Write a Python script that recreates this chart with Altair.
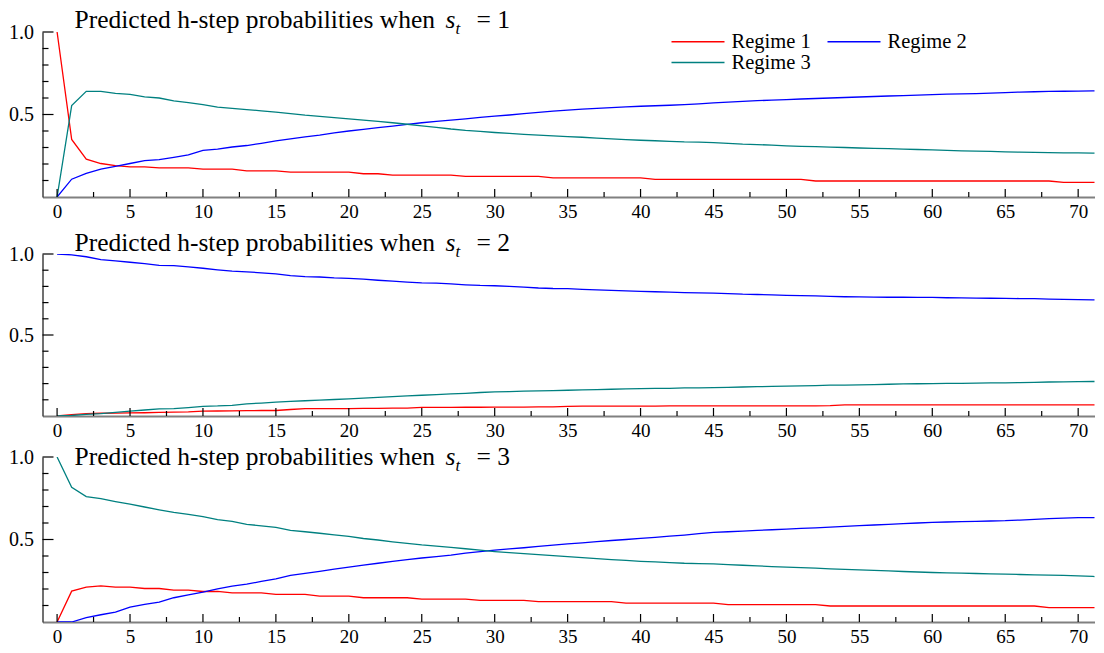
import altair as alt
import pandas as pd

# ---------------- data ----------------
H = list(range(73))
regimes = ["Regime 1", "Regime 2", "Regime 3"]
colors = ["#ff0000", "#0000ff", "#008080"]
panel_states = ["1", "2", "3"]

# s_t = 1
p1_r1 = [1.000, 0.349, 0.229, 0.203, 0.190, 0.183, 0.183, 0.177, 0.177, 0.177,
         0.169, 0.169, 0.169, 0.158, 0.158, 0.158, 0.151, 0.151, 0.151, 0.151,
         0.151, 0.141, 0.141, 0.133, 0.133, 0.133, 0.133, 0.133, 0.125, 0.125,
         0.125, 0.125, 0.125, 0.125, 0.116, 0.116, 0.116, 0.116, 0.116, 0.116,
         0.116, 0.107, 0.107, 0.107, 0.107, 0.107, 0.107, 0.107, 0.107, 0.107,
         0.107, 0.107, 0.097, 0.097, 0.097, 0.097, 0.097, 0.097, 0.097, 0.097,
         0.097, 0.097, 0.097, 0.097, 0.097, 0.097, 0.097, 0.097, 0.097, 0.089,
         0.089, 0.089, 0.089]
p1_r2 = [0.000, 0.108, 0.143, 0.169, 0.185, 0.203, 0.221, 0.227, 0.240, 0.255,
         0.283, 0.290, 0.303, 0.312, 0.325, 0.340, 0.352, 0.365, 0.375, 0.388,
         0.400, 0.410, 0.420, 0.430, 0.440, 0.450, 0.458, 0.466, 0.474, 0.482,
         0.490, 0.497, 0.505, 0.513, 0.520, 0.527, 0.532, 0.537, 0.542, 0.546,
         0.550, 0.553, 0.556, 0.560, 0.565, 0.570, 0.575, 0.580, 0.584, 0.587,
         0.590, 0.594, 0.597, 0.600, 0.603, 0.606, 0.609, 0.612, 0.615, 0.618,
         0.620, 0.623, 0.625, 0.627, 0.630, 0.633, 0.636, 0.638, 0.640, 0.641,
         0.642, 0.643, 0.644]
p1_r3 = [0.000, 0.554, 0.640, 0.640, 0.628, 0.622, 0.607, 0.600, 0.582, 0.572,
         0.560, 0.545, 0.537, 0.530, 0.522, 0.514, 0.505, 0.496, 0.489, 0.481,
         0.474, 0.466, 0.458, 0.450, 0.441, 0.431, 0.422, 0.412, 0.404, 0.398,
         0.391, 0.385, 0.380, 0.375, 0.370, 0.366, 0.362, 0.357, 0.352, 0.348,
         0.344, 0.341, 0.337, 0.334, 0.333, 0.330, 0.325, 0.320, 0.318, 0.314,
         0.310, 0.307, 0.305, 0.302, 0.300, 0.297, 0.295, 0.293, 0.290, 0.288,
         0.285, 0.283, 0.280, 0.278, 0.276, 0.274, 0.272, 0.270, 0.269, 0.268,
         0.267, 0.266, 0.265]

# s_t = 2
p2_r1 = [0.000, 0.008, 0.015, 0.017, 0.018, 0.019, 0.020, 0.022, 0.024, 0.026,
         0.030, 0.031, 0.032, 0.033, 0.034, 0.034, 0.040, 0.045, 0.045, 0.046,
         0.046, 0.047, 0.047, 0.048, 0.049, 0.053, 0.053, 0.053, 0.054, 0.054,
         0.055, 0.055, 0.055, 0.056, 0.056, 0.060, 0.061, 0.061, 0.061, 0.061,
         0.061, 0.061, 0.062, 0.062, 0.062, 0.062, 0.062, 0.063, 0.063, 0.063,
         0.063, 0.063, 0.063, 0.064, 0.069, 0.069, 0.069, 0.069, 0.069, 0.069,
         0.069, 0.069, 0.069, 0.069, 0.069, 0.069, 0.069, 0.069, 0.069, 0.069,
         0.069, 0.069, 0.069]
p2_r2 = [1.000, 0.995, 0.983, 0.965, 0.957, 0.949, 0.940, 0.930, 0.928, 0.920,
         0.912, 0.902, 0.894, 0.890, 0.884, 0.877, 0.866, 0.860, 0.858, 0.853,
         0.850, 0.845, 0.838, 0.832, 0.827, 0.822, 0.820, 0.815, 0.810, 0.806,
         0.804, 0.800, 0.795, 0.790, 0.787, 0.786, 0.782, 0.778, 0.775, 0.772,
         0.769, 0.767, 0.765, 0.762, 0.760, 0.759, 0.756, 0.752, 0.750, 0.748,
         0.745, 0.743, 0.741, 0.738, 0.736, 0.735, 0.734, 0.733, 0.733, 0.732,
         0.732, 0.730, 0.729, 0.728, 0.727, 0.726, 0.725, 0.724, 0.722, 0.720,
         0.718, 0.717, 0.717]
p2_r3 = [0.000, 0.003, 0.010, 0.015, 0.022, 0.030, 0.037, 0.044, 0.046, 0.052,
         0.060, 0.062, 0.066, 0.075, 0.080, 0.086, 0.090, 0.094, 0.098, 0.102,
         0.106, 0.110, 0.115, 0.120, 0.124, 0.128, 0.132, 0.136, 0.140, 0.145,
         0.149, 0.151, 0.153, 0.155, 0.157, 0.159, 0.161, 0.163, 0.165, 0.167,
         0.169, 0.170, 0.171, 0.173, 0.174, 0.175, 0.177, 0.179, 0.181, 0.183,
         0.184, 0.186, 0.188, 0.190, 0.191, 0.192, 0.194, 0.196, 0.198, 0.199,
         0.200, 0.201, 0.202, 0.203, 0.204, 0.204, 0.206, 0.208, 0.210, 0.211,
         0.212, 0.213, 0.213]

# s_t = 3
p3_r1 = [0.000, 0.187, 0.211, 0.219, 0.211, 0.211, 0.203, 0.203, 0.193, 0.193,
         0.185, 0.185, 0.177, 0.177, 0.177, 0.167, 0.167, 0.167, 0.157, 0.157,
         0.157, 0.147, 0.147, 0.147, 0.147, 0.139, 0.139, 0.139, 0.139, 0.131,
         0.131, 0.131, 0.131, 0.123, 0.123, 0.123, 0.123, 0.123, 0.123, 0.115,
         0.115, 0.115, 0.115, 0.115, 0.115, 0.115, 0.105, 0.105, 0.105, 0.105,
         0.105, 0.105, 0.105, 0.097, 0.097, 0.097, 0.097, 0.097, 0.097, 0.097,
         0.097, 0.097, 0.097, 0.097, 0.097, 0.097, 0.097, 0.097, 0.087, 0.087,
         0.087, 0.087, 0.087]
p3_r2 = [0.000, 0.000, 0.026, 0.044, 0.060, 0.090, 0.107, 0.121, 0.147, 0.165,
         0.181, 0.201, 0.217, 0.229, 0.246, 0.261, 0.282, 0.295, 0.307, 0.320,
         0.332, 0.345, 0.356, 0.367, 0.378, 0.388, 0.396, 0.405, 0.418, 0.427,
         0.435, 0.443, 0.450, 0.458, 0.466, 0.473, 0.480, 0.487, 0.494, 0.500,
         0.507, 0.513, 0.520, 0.527, 0.535, 0.543, 0.547, 0.551, 0.555, 0.559,
         0.563, 0.567, 0.571, 0.575, 0.580, 0.584, 0.588, 0.592, 0.596, 0.600,
         0.604, 0.606, 0.608, 0.610, 0.612, 0.614, 0.618, 0.622, 0.626, 0.629,
         0.632, 0.632, 0.632]
p3_r3 = [1.000, 0.817, 0.760, 0.748, 0.730, 0.714, 0.697, 0.680, 0.664, 0.652,
         0.638, 0.620, 0.610, 0.592, 0.583, 0.573, 0.555, 0.547, 0.538, 0.528,
         0.519, 0.506, 0.497, 0.486, 0.476, 0.467, 0.460, 0.452, 0.444, 0.435,
         0.427, 0.420, 0.414, 0.408, 0.402, 0.396, 0.390, 0.384, 0.378, 0.373,
         0.368, 0.364, 0.360, 0.356, 0.354, 0.352, 0.348, 0.344, 0.340, 0.336,
         0.332, 0.329, 0.326, 0.322, 0.319, 0.316, 0.313, 0.310, 0.306, 0.303,
         0.300, 0.298, 0.296, 0.294, 0.292, 0.290, 0.288, 0.286, 0.284, 0.282,
         0.280, 0.276, 0.273]

x_major = [0, 5, 10, 15, 20, 25, 30, 35, 40, 45, 50, 55, 60, 65, 70]
x_minor = [2.5, 7.5, 12.5, 17.5, 22.5, 27.5, 32.5, 37.5, 42.5, 47.5, 52.5,
           57.5, 62.5, 67.5]
y_major = [0.5, 1.0]
y_minor = [0.1, 0.2, 0.3, 0.4, 0.6, 0.7, 0.8, 0.9]
x_domain = [-1, 71.12]

# ---------------- styling ----------------
FONT = "Liberation Serif"
W = 1052
TITLE_FS = 25.5
SUB_FS = 17
TITLE_X = 32
S_X = 403
T_X = 413
EQ_X = 434

xscale = alt.Scale(domain=x_domain, nice=False, zero=False)
yscale = alt.Scale(domain=[0, 1], nice=False, zero=False)
xaxis = alt.Axis(values=x_major, format="d", ticks=False, grid=False, title=None,
                 labelFont=FONT, labelFontSize=19, labelColor="black",
                 labelPadding=5, labelFlush=False, domainColor="#808080",
                 domainWidth=2)
yaxis = alt.Axis(values=y_major, format=".1f", ticks=False, grid=False, title=None,
                 labelFont=FONT, labelFontSize=20, labelColor="black",
                 labelPadding=9, domainColor="#404040", domainWidth=1.5)


def panel(series, state, height, title_y, show_legend):
    rows = []
    for reg, vals in zip(regimes, series):
        for hh, v in zip(H, vals):
            rows.append({"h": hh, "p": v, "regime": reg})
    df = pd.DataFrame(rows)

    if show_legend:
        legend = alt.Legend(orient="none", legendX=628, legendY=-0.5, columns=2,
                            direction="horizontal",
                            symbolType="stroke", symbolSize=2809,
                            symbolStrokeWidth=1.3, labelFont=FONT,
                            labelFontSize=20.5, labelColor="black", labelOffset=6,
                            columnPadding=15, rowPadding=0, clipHeight=20,
                            padding=0, title=None, labelLimit=0)
    else:
        legend = None

    lines = alt.Chart(df).mark_line(strokeWidth=1.3, clip=True).encode(
        x=alt.X("h:Q", scale=xscale, axis=xaxis),
        y=alt.Y("p:Q", scale=yscale, axis=yaxis),
        color=alt.Color("regime:N", scale=alt.Scale(domain=regimes, range=colors),
                        legend=legend),
    )

    xmaj = alt.Chart(pd.DataFrame({"v": x_major})).mark_rule(
        color="black", strokeWidth=1.2).encode(
        x=alt.X("v:Q", scale=xscale, axis=xaxis),
        y=alt.value(height), y2=alt.value(height - 8))
    xmin = alt.Chart(pd.DataFrame({"v": x_minor})).mark_rule(
        color="black", strokeWidth=1.2).encode(
        x=alt.X("v:Q", scale=xscale, axis=xaxis),
        y=alt.value(height), y2=alt.value(height - 5))
    ymaj = alt.Chart(pd.DataFrame({"v": y_major})).mark_rule(
        color="black", strokeWidth=1.2).encode(
        y=alt.Y("v:Q", scale=yscale, axis=yaxis),
        x=alt.value(0), x2=alt.value(11))
    ymin = alt.Chart(pd.DataFrame({"v": y_minor})).mark_rule(
        color="black", strokeWidth=1.2).encode(
        y=alt.Y("v:Q", scale=yscale, axis=yaxis),
        x=alt.value(0), x2=alt.value(6))

    def txt(s, x, y, size, style="normal"):
        return alt.Chart(pd.DataFrame({"t": [s]})).mark_text(
            align="left", baseline="alphabetic", font=FONT, fontSize=size,
            fontStyle=style, color="black").encode(
            x=alt.value(x), y=alt.value(y), text="t:N")

    title = (txt("Predicted h-step probabilities when", TITLE_X, title_y, TITLE_FS)
             + txt("s", S_X, title_y, TITLE_FS, "italic")
             + txt("t", T_X, title_y + 6, SUB_FS, "italic")
             + txt("= " + state, EQ_X, title_y, TITLE_FS))

    return alt.layer(lines, xmaj, xmin, ymaj, ymin, title).properties(
        width=W, height=height)


c1 = panel([p1_r1, p1_r2, p1_r3], panel_states[0], 165, -4, True)
c2 = panel([p2_r1, p2_r2, p2_r3], panel_states[1], 162, -3, False)
c3 = panel([p3_r1, p3_r2, p3_r3], panel_states[2], 165, 8, False)

lower = alt.vconcat(c2, c3, spacing=41, bounds="flush")
chart = alt.vconcat(c1, lower, spacing=57, bounds="flush").resolve_legend(
    color="independent").properties(
    padding={"left": 0.5, "top": 0, "right": 0, "bottom": -2}).configure_view(
    stroke=None)

chart.save("out.html", embed_options={"renderer": "svg", "actions": False})
